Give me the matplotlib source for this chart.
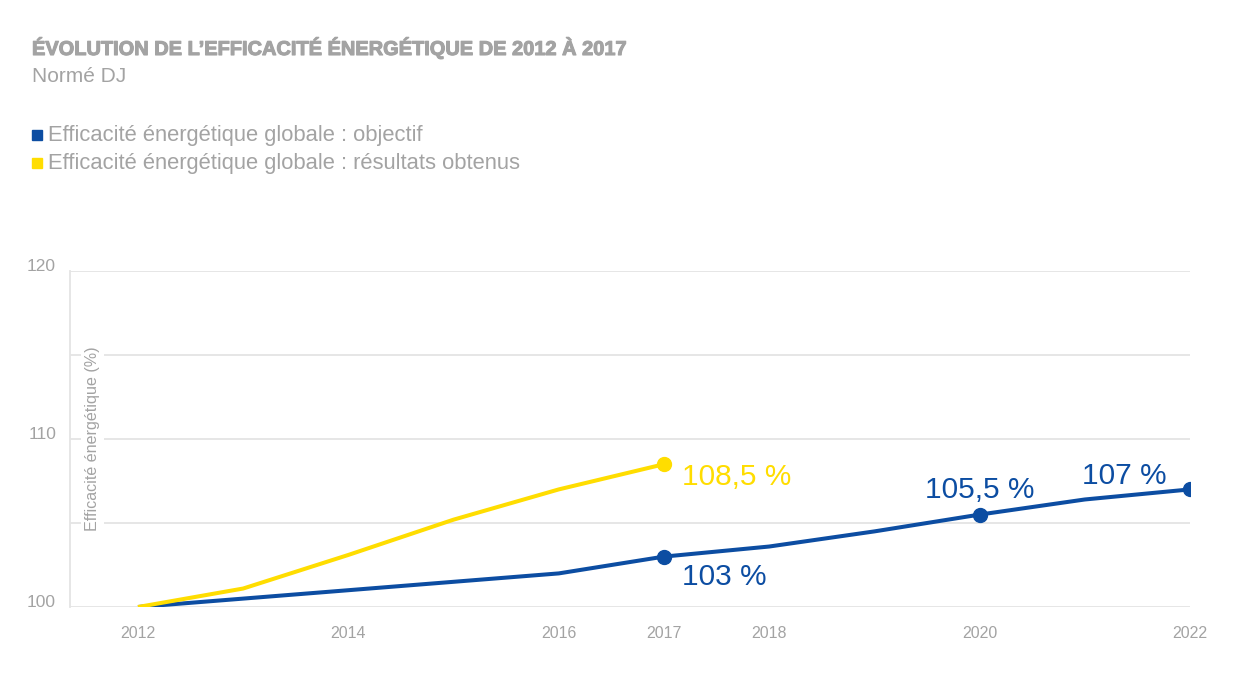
import matplotlib
matplotlib.use("Agg")
import numpy as np
from matplotlib import pyplot as plt
import matplotlib.patheffects as pe

# data
years_obj = [2012, 2013, 2014, 2015, 2016, 2017, 2018, 2019, 2020, 2021, 2022]
objectif = [100, 100.5, 101, 101.5, 102, 103, 103.6, 104.5, 105.5, 106.4, 107]
years_res = [2012, 2013, 2014, 2015, 2016, 2017]
resultats = [100, 101.1, 103.1, 105.2, 107, 108.5]

xticks = [2012, 2014, 2016, 2017, 2018, 2020, 2022]
yticks = [100, 110, 120]

obj_marks = [2017, 2020, 2022]
obj_labels = ["103 %", "105,5 %", "107 %"]
res_label = "108,5 %"

title = "ÉVOLUTION DE L’EFFICACITÉ ÉNERGÉTIQUE DE 2012 À 2017"
subtitle = "Normé DJ"
legend_labels = ["Efficacité énergétique globale : objectif",
                 "Efficacité énergétique globale : résultats obtenus"]
ylabel = "Efficacité énergétique (%)"

BLUE = "#0c4da2"
YELLOW = "#ffdd00"
GREY = "#a3a3a3"
GRID = "#e4e4e4"

plt.rcParams['font.family'] = ['Liberation Sans', 'DejaVu Sans']

fig = plt.figure(figsize=(12.38, 6.76), dpi=100)
ax = fig.add_axes([70/1238, 1 - 607/676, 1120/1238, 336/676])

ax.plot(years_obj, objectif, color=BLUE, lw=2.9, solid_capstyle='butt', zorder=3)
ax.plot(years_res, resultats, color=YELLOW, lw=2.9, solid_capstyle='butt', zorder=3)

mk = [objectif[years_obj.index(y)] for y in obj_marks]
ax.plot(obj_marks, mk, 'o', color=BLUE, ms=10, zorder=4)
ax.plot([years_res[-1]], [resultats[-1]], 'o', color=YELLOW, ms=10, zorder=4)

# value labels
lab_font = dict(fontsize=21.5)
ax.annotate(res_label, (years_res[-1], resultats[-1]), xytext=(13, -9),
            textcoords='offset points', ha='left', va='center',
            color=YELLOW, **lab_font)
offsets = [((13, -15), 'left'), ((0, 18), 'center'), ((-47, 10), 'center')]
for y, v, lab, (off, ha) in zip(obj_marks, mk, obj_labels, offsets):
    ax.annotate(lab, (y, v), xytext=off, textcoords='offset points',
                ha=ha, va='center', color=BLUE, **lab_font)

ax.set_xlim(2012 - 68/105.2, 2022)
ax.set_ylim(100, 120)
ax.set_xticks(xticks)
ax.set_yticks(yticks)
ax.set_yticks([105, 115], minor=True)
ax.grid(axis='y', which='both', color=GRID, lw=1.3, zorder=0)
ax.tick_params(axis='both', which='both', length=0, colors=GREY)
ax.tick_params(axis='x', pad=14, labelsize=11.5)
ax.tick_params(axis='y', pad=10, labelsize=12.5)
for lab in ax.get_yticklabels():
    lab.set_va('baseline')

for s in ['top', 'right', 'bottom']:
    ax.spines[s].set_visible(False)
ax.spines['left'].set_color(GRID)
ax.spines['left'].set_linewidth(1.3)

ax.text(0.02, 0.5, ylabel, transform=ax.transAxes, rotation=90,
        ha='center', va='center', color=GREY, fontsize=11.6, zorder=2,
        bbox=dict(facecolor='white', edgecolor='none', pad=3))

fig.text(32/1238, 1 - 48/676, title, ha='left', va='center', color=GREY,
         fontsize=14.4, fontweight='bold',
         path_effects=[pe.withStroke(linewidth=0.8, foreground=GREY)])
fig.text(32/1238, 1 - 77/676, subtitle, ha='left', va='center', color=GREY, fontsize=15)

for i, (lab, c) in enumerate(zip(legend_labels, [BLUE, YELLOW])):
    yc = 1 - (135 + 28*i)/676
    fig.patches.append(plt.Rectangle((32/1238, yc - 5/676), 10/1238, 10/676,
                                     transform=fig.transFigure, color=c))
    fig.text(48/1238, yc, lab, ha='left', va='center', color=GREY, fontsize=15.8)

fig.savefig("out.png", dpi=100, facecolor='white')
